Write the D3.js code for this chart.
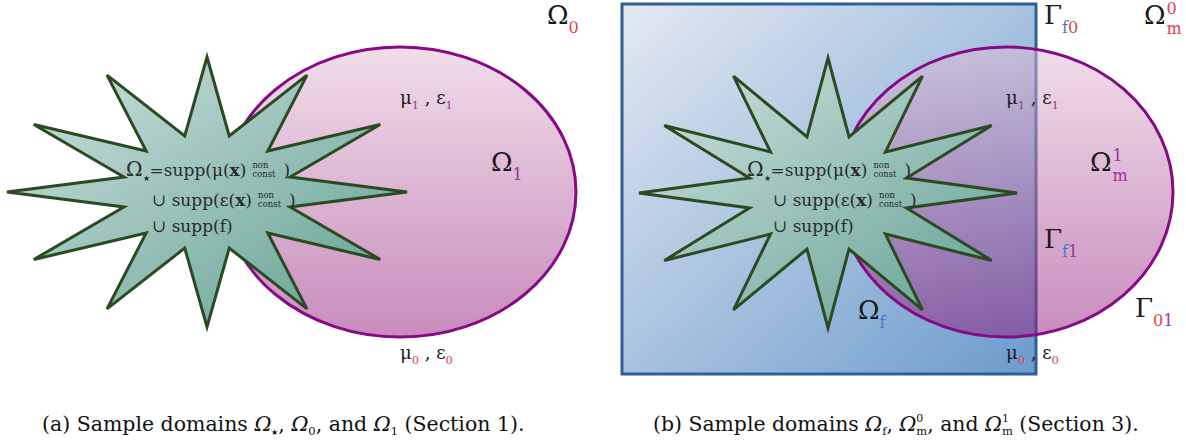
<!DOCTYPE html>
<html>
<head>
<meta charset="utf-8">
<script src="https://cdn.jsdelivr.net/npm/d3@7"></script>
<style>
  body { margin: 0; background: #fff; }
</style>
</head>
<body>
<div id="chartContainer"></div>
<script>
// panel local coordinates (each panel 600 wide)
var panelOffset = [0, 600];
var starCx = [207, 228], starCy = [192, 193];
var starRx = [200, 189], starRy = [135, 135];
var starTips = 12, starInner = 0.43;
var ellCx = [400, 406], ellCy = [192, 192];
var ellRx = [176, 167], ellRy = [145, 145];
var rectB = [22, 4, 436, 374];   // panel b only: x0, y0, x1, y1

var red = "#e8404a", purple = "#a0309c", blue = "#4a78c8";
var serif = "'DejaVu Serif', 'Liberation Serif', 'Noto Serif', serif";

// labels: [panel, x, y, size, parts]  parts: [text, kind, colour]
var labels = [
  [0, 547, 24, 26, [["Ω"], ["0", "sub", red]]],
  [0, 400, 104, 18, [["μ"], ["1", "sub", purple], [" , ε"], ["1", "sub", purple]]],
  [0, 491, 171, 26, [["Ω"], ["1", "sub", purple]]],
  [0, 400, 359, 18, [["μ"], ["0", "sub", red], [" , ε"], ["0", "sub", red]]],
  [1, 406, 104, 18, [["μ"], ["1", "sub", purple], [" , ε"], ["1", "sub", purple]]],
  [1, 406, 359, 18, [["μ"], ["0", "sub", red], [" , ε"], ["0", "sub", red]]],
  [1, 444, 24, 26, [["Γ"], ["f", "sub", blue], ["0", "sub", red]]],
  [1, 444, 248, 26, [["Γ"], ["f", "sub", blue], ["1", "sub", purple]]],
  [1, 535, 317, 26, [["Γ"], ["0", "sub", red], ["1", "sub", purple]]],
  [1, 258, 319, 26, [["Ω"], ["f", "sub", blue]]]
];
// Omega with both indices: [panel, x, y, sup, sub, colour]
var omegaSubSup = [
  [1, 544, 24, "0", "m", red],
  [1, 490, 171, "1", "m", purple]
];
var starLines = ["Ω", "∪ supp(ε(", "∪ supp(f)"];

var W = 1186, H = 445;
var svg = d3.select("#chartContainer").append("svg")
  .attr("width", W).attr("height", H)
  .style("font-family", serif);
var defs = svg.append("defs");

function grad(id, x2, y2, c0, c1) {
  var g = defs.append("linearGradient").attr("id", id)
    .attr("x1", 0).attr("y1", 0).attr("x2", x2).attr("y2", y2);
  g.append("stop").attr("offset", "0%").attr("stop-color", c0);
  g.append("stop").attr("offset", "100%").attr("stop-color", c1);
}
grad("ellFill", 0, 1, "#e2bcd4", "#92197a");
grad("starFill", 1, 1, "#d2e3e1", "#5f9f91");
grad("rectFill", 1, 1, "#e3e9f2", "#6c9bcd");

panelOffset.forEach(function (off, p) {
  var x = d3.scaleLinear().domain([0, 600]).range([off, off + 600]);
  var y = d3.scaleLinear().domain([0, 445]).range([0, 445]);
  var g = svg.append("g");

  if (p === 1) {
    g.append("rect")
      .attr("x", x(rectB[0])).attr("y", y(rectB[1]))
      .attr("width", x(rectB[2]) - x(rectB[0]))
      .attr("height", y(rectB[3]) - y(rectB[1]))
      .attr("fill", "url(#rectFill)")
      .attr("stroke", "#2e5f96").attr("stroke-width", 3);
  }

  //ellipse, half transparent fill
  g.append("ellipse")
    .attr("cx", x(ellCx[p])).attr("cy", y(ellCy[p]))
    .attr("rx", ellRx[p]).attr("ry", ellRy[p])
    .attr("fill", "url(#ellFill)").attr("fill-opacity", 0.5)
    .attr("stroke", "#850a85").attr("stroke-width", 3);

  //star
  var pts = d3.range(starTips * 2).map(function (i) {
    var a = Math.PI / 2 - i * Math.PI / starTips;
    var r = i % 2 === 0 ? 1 : starInner;
    return [x(starCx[p] + starRx[p] * r * Math.cos(a)),
            y(starCy[p] - starRy[p] * r * Math.sin(a))];
  });
  g.append("path")
    .attr("d", d3.line()(pts) + "Z")
    .attr("fill", "url(#starFill)")
    .attr("stroke", "#2b4a21").attr("stroke-width", 3)
    .attr("stroke-linejoin", "miter");

  // star text
  var tx = x(starCx[p]) - 81, ty = 176;
  var fs = 17;
  var t1 = g.append("text").attr("x", tx).attr("y", ty)
    .attr("font-size", fs).attr("fill", "#2a2a2a");
  t1.append("tspan").attr("font-size", 20).text("Ω");
  t1.append("tspan").attr("font-size", 8).attr("dy", 5).text("★");
  t1.append("tspan").attr("dy", -5).text("=supp(μ(");
  t1.append("tspan").attr("font-weight", "bold").text("x");
  t1.append("tspan").text(")");
  var end1 = tx + t1.node().getComputedTextLength();

  var t2 = g.append("text").attr("x", tx + 26).attr("y", ty + 30)
    .attr("font-size", fs).attr("fill", "#2a2a2a");
  t2.append("tspan").text("∪ supp(ε(");
  t2.append("tspan").attr("font-weight", "bold").text("x");
  t2.append("tspan").text(")");
  var end2 = tx + 26 + t2.node().getComputedTextLength();

  [[end1, ty], [end2, ty + 30]].forEach(function (e) {
    g.append("text").attr("x", e[0] + 6).attr("y", e[1] - 8)
      .attr("font-size", 8.5).attr("fill", "#2a2a2a").text("non");
    g.append("text").attr("x", e[0] + 6).attr("y", e[1] + 1)
      .attr("font-size", 8.5).attr("fill", "#2a2a2a").text("const");
    g.append("text").attr("x", e[0] + 37).attr("y", e[1])
      .attr("font-size", fs).attr("fill", "#2a2a2a").text(")");
  });

  g.append("text").attr("x", tx + 26).attr("y", ty + 56)
    .attr("font-size", fs).attr("fill", "#2a2a2a").text(starLines[2]);

  // labels
  labels.filter(function (l) { return l[0] === p; }).forEach(function (l) {
    var t = g.append("text").attr("x", x(l[1])).attr("y", y(l[2]))
      .attr("font-size", l[3]).attr("fill", "#1a1a1a");
    var shift = 0, drop = l[3] > 20 ? 9 : 5;
    l[4].forEach(function (part) {
      var s = part[1] === "sub" ? drop : 0;
      var ts = t.append("tspan").attr("dy", s - shift).text(part[0]);
      if (part[1] === "sub") ts.attr("font-size", l[3] > 20 ? 16 : 11.5).attr("fill", part[2]);
      shift = s;
    });
  });

  omegaSubSup.filter(function (l) { return l[0] === p; }).forEach(function (l) {
    var t = g.append("text").attr("x", x(l[1])).attr("y", y(l[2]))
      .attr("font-size", 26).attr("fill", "#1a1a1a").text("Ω");
    var w = t.node().getComputedTextLength();
    g.append("text").attr("x", x(l[1]) + w + 1).attr("y", y(l[2]) - 10)
      .attr("font-size", 16).attr("fill", l[5]).text(l[3]);
    g.append("text").attr("x", x(l[1]) + w + 1).attr("y", y(l[2]) + 10)
      .attr("font-size", 16).attr("fill", l[5]).text(l[4]);
  });
});

// captions: sup and sub2 are stacked, drawn as separate texts
var captions = [
  [42, 530, [["(a) Sample domains "], ["Ω", "i"], ["★", "sub"], [", "], ["Ω", "i"], ["0", "sub"],
             [", and "], ["Ω", "i"], ["1", "sub"], [" (Section 1)."]]],
  [653, 1145, [["(b) Sample domains "], ["Ω", "i"], ["f", "sub"], [", "], ["Ω", "i"], ["m", "sub"],
               [", and "], ["Ω", "i"], ["m", "sub"], [" (Section 3)."]]]
];
var capSup = [[], ["0", "1"]];
captions.forEach(function (c, ci) {
  var t = svg.append("text").attr("x", c[0]).attr("y", 431)
    .attr("font-size", 16.5).attr("fill", "#111");
  var shift = 0;
  var subs = [];
  c[2].forEach(function (part) {
    var k = part[1];
    var s = k === "sub" ? 4 : 0;
    var ts = t.append("tspan").attr("dy", s - shift).text(part[0]);
    if (k === "i") ts.attr("font-style", "italic");
    if (k === "sub") { ts.attr("font-size", part[0] === "★" ? 8 : 11.5); if (part[0] === "m") subs.push(ts); }
    shift = s;
  });
  // stretch to the measured width
  var len = t.node().getComputedTextLength();
  t.attr("font-size", 16.5 * (c[1] - c[0]) / len);
  subs.forEach(function (ts, i) {
    var b = ts.node().getBBox();
    svg.append("text").attr("x", b.x).attr("y", 431 - 9)
      .attr("font-size", 11).attr("fill", "#111").text(capSup[ci][i]);
  });
});
</script>
</body>
</html>
